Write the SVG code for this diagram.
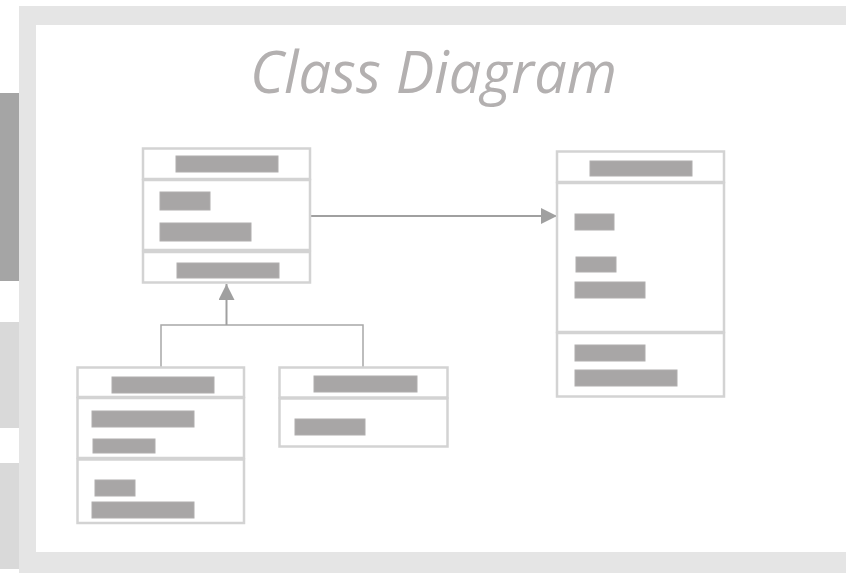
<svg xmlns="http://www.w3.org/2000/svg" width="846" height="573" viewBox="0 0 846 573">
  <style>
    .frame { fill: #e5e5e5; }
    .sheet { fill: #ffffff; }
    .comp { fill: #ffffff; stroke: #d3d3d3; stroke-width: 2.5; }
    .bar { fill: #a8a6a6; stroke: #b0aeae; stroke-width: 1; }
    .link { fill: none; stroke: #a0a0a0; stroke-width: 2; }
    .branch { fill: none; stroke: #a8a8a8; stroke-width: 1.5; }
    .title { font-family: "Open Sans", "Noto Sans", "DejaVu Sans", sans-serif; font-style: italic; font-size: 58px; fill: #b3b0b0; }
  </style>
  <defs>
    <marker id="head" viewBox="0 0 16 16" refX="16" refY="8" markerWidth="16" markerHeight="16" markerUnits="userSpaceOnUse" orient="auto">
      <path d="M0,0 L16,8 L0,16 Z" fill="#a0a0a0"/>
    </marker>
  </defs>

  <!-- side tabs -->
  <rect x="0" y="93" width="19" height="188" fill="#a5a5a5"/>
  <rect x="0" y="322" width="19" height="106" fill="#d9d9d9"/>
  <rect x="0" y="463" width="19" height="106" fill="#d9d9d9"/>

  <!-- page frame -->
  <rect class="frame" x="19" y="6" width="827" height="567"/>
  <rect class="sheet" x="36" y="25" width="810" height="527"/>

  <text class="title" x="250" y="93" textLength="367" lengthAdjust="spacingAndGlyphs">Class Diagram</text>

  <!-- connectors -->
  <g id="connectors">
    <line class="link" x1="310" y1="216" x2="557" y2="216" marker-end="url(#head)"/>
    <path class="branch" d="M161,367 V325 H363 V367"/>
    <line class="link" x1="226.5" y1="325" x2="226.5" y2="284" marker-end="url(#head)"/>
  </g>

  <!-- base class -->
  <g id="class-a">
    <rect class="comp" x="143" y="148.5" width="167" height="30.5"/>
    <rect class="comp" x="143" y="180" width="167" height="70"/>
    <rect class="comp" x="143" y="252" width="167" height="30.5"/>
    <rect class="bar" x="176" y="156" width="102" height="16"/>
    <rect class="bar" x="160" y="192" width="50" height="18"/>
    <rect class="bar" x="160" y="223" width="91" height="18"/>
    <rect class="bar" x="177" y="263" width="102" height="15"/>
  </g>

  <!-- associated class -->
  <g id="class-b">
    <rect class="comp" x="557" y="151.5" width="167" height="30.5"/>
    <rect class="comp" x="557" y="183" width="167" height="149"/>
    <rect class="comp" x="557" y="333" width="167" height="63.5"/>
    <rect class="bar" x="590" y="161" width="102" height="15"/>
    <rect class="bar" x="575" y="214" width="39" height="16"/>
    <rect class="bar" x="576" y="257" width="40" height="15"/>
    <rect class="bar" x="575" y="282" width="70" height="16"/>
    <rect class="bar" x="575" y="345" width="70" height="16"/>
    <rect class="bar" x="575" y="370" width="102" height="16"/>
  </g>

  <!-- first subclass -->
  <g id="class-c">
    <rect class="comp" x="77.5" y="367.5" width="166.5" height="29.5"/>
    <rect class="comp" x="77.5" y="398" width="166.5" height="60"/>
    <rect class="comp" x="77.5" y="459.5" width="166.5" height="63.5"/>
    <rect class="bar" x="112" y="377" width="102" height="16"/>
    <rect class="bar" x="92" y="411" width="102" height="16"/>
    <rect class="bar" x="93" y="439" width="62" height="14"/>
    <rect class="bar" x="95" y="480" width="40" height="16"/>
    <rect class="bar" x="92" y="502" width="102" height="16"/>
  </g>

  <!-- second subclass -->
  <g id="class-d">
    <rect class="comp" x="279.5" y="367.5" width="168" height="30"/>
    <rect class="comp" x="279.5" y="398.5" width="168" height="48"/>
    <rect class="bar" x="314" y="376" width="103" height="16"/>
    <rect class="bar" x="295" y="419" width="70" height="16"/>
  </g>
</svg>
